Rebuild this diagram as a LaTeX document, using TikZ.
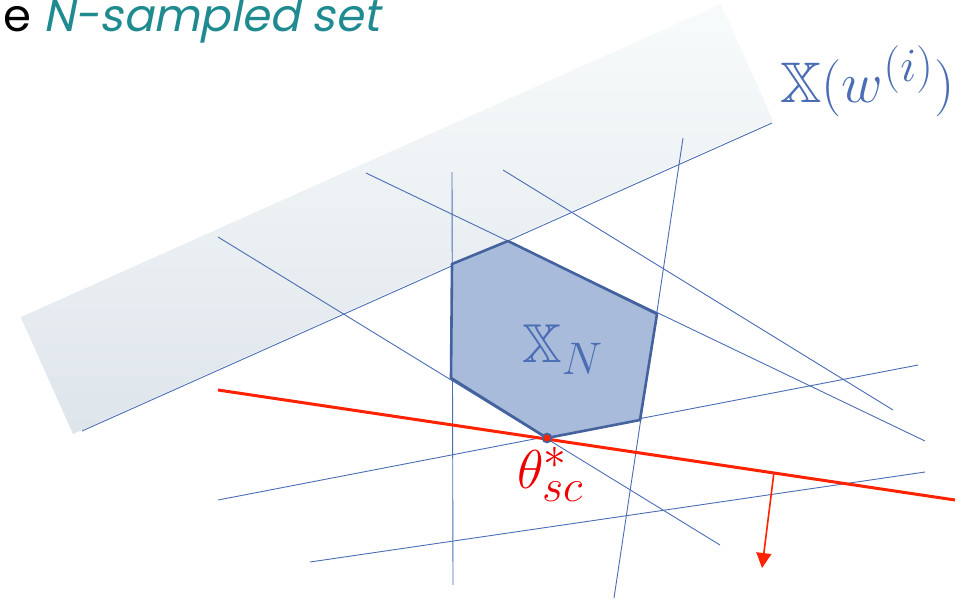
\documentclass[tikz,border=0pt]{standalone}
\usepackage{graphicx}
\usepackage{amssymb}
\usepackage{fontspec}
\newfontfamily\popit[FakeSlant=0.2]{Poppins}
\newfontfamily\pop{Poppins}
\usetikzlibrary{arrows.meta}
\definecolor{lineblue}{HTML}{4A6DB4}
\definecolor{polyedge}{HTML}{44639E}
\definecolor{polyfill}{HTML}{A9BBDB}
\definecolor{redline}{HTML}{FF2200}
\definecolor{labred}{HTML}{EE0000}
\definecolor{teal}{HTML}{1F8A8F}
\definecolor{bandlight}{HTML}{F8FBFB}
\definecolor{bandmid}{HTML}{F2F6F7}
\definecolor{banddark}{HTML}{DEE5EB}
\begin{document}
\begin{tikzpicture}[x=1pt,y=-1pt,
  thin line/.style={draw=lineblue,line width=0.9pt},
  red line/.style={draw=redline,line width=3pt},
  red arrow/.style={draw=redline,fill=redline,line width=1.6pt,-{Triangle[length=15pt,width=15pt]}},
  poly/.style={draw=polyedge,fill=polyfill,line width=2.6pt,line join=round},
  lab/.style={inner sep=0pt,anchor=base west}]
\useasboundingbox (0,0) rectangle (979,600);
% band (rectangle rotated along its long side)
\coordinate (b4) at (73,434);
\begin{scope}[shift={(b4)},rotate=24.1]
  \shade[top color=bandlight,middle color=bandmid,bottom color=banddark] (0,0) rectangle (767,-128);
\end{scope}
% line endpoints
\coordinate (a1) at (82,431);   \coordinate (a2) at (772,123);
\coordinate (c1) at (218,237);  \coordinate (c2) at (720,545);
\coordinate (d1) at (366,173);  \coordinate (d2) at (925,441);
\coordinate (e1) at (503,170);  \coordinate (e2) at (893,410);
\coordinate (f1) at (452,172);  \coordinate (f2) at (453,585);
\coordinate (g1) at (683,138);  \coordinate (g2) at (614,598);
\coordinate (h1) at (218,500);  \coordinate (h2) at (918,365);
\coordinate (k1) at (310,562);  \coordinate (k2) at (925,472);
\foreach \s/\t in {a1/a2,c1/c2,d1/d2,e1/e2,f1/f2,g1/g2,h1/h2,k1/k2}
  \draw[thin line] (\s) -- (\t);
% polygon
\coordinate (p1) at (508,241);
\coordinate (p2) at (452,264);
\coordinate (p3) at (451,378);
\coordinate (p4) at (547,438);
\coordinate (p5) at (640,420);
\coordinate (p6) at (657,314);
\draw[poly] (p1) -- (p2) -- (p3) -- (p4) -- (p5) -- (p6) -- cycle;
% red line and arrow
\coordinate (r1) at (218,390);
\coordinate (r2) at (955,500);
\draw[red line] (r1) -- (r2);
\coordinate (s1) at (774,472);
\coordinate (s2) at (762,568);
\draw[red arrow] (s1) -- (s2);
% optimum point
\filldraw[fill=redline,draw=polyedge,line width=1.6pt] (p4) circle (4.5);
% labels
\node[lab,text=black] (title) at (3,31) {\fontsize{45}{50}\selectfont\pop e \textcolor{teal}{\popit N-sampled set}};
\node[lab,text=lineblue] (xw) at (780,102) {\scalebox{2.3}{\Huge$\mathbb{X}(w^{(i)})$}};
\node[lab,text=lineblue] (xn) at (522,362) {\scalebox{2.2}{\Huge$\mathbb{X}_N$}};
\node[lab,text=labred] (th) at (517,488) {\scalebox{2.2}{\Huge$\theta^*_{sc}$}};
\end{tikzpicture}
\end{document}
